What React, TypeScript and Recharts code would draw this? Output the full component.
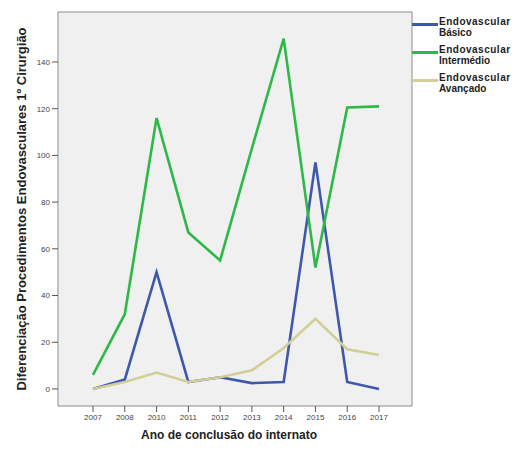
import React from "react";
import {
  LineChart,
  Line,
  XAxis,
  YAxis,
  CartesianGrid,
  Label
} from "recharts";

const years = ["2007", "2008", "2010", "2011", "2012", "2013", "2014", "2015", "2016", "2017"];
const basico = [0, 4, 50, 3, 5, 2.5, 3, 97, 3, 0];
const intermedio = [6, 32, 116, 67, 55, 103, 150, 52, 120.5, 121];
const avancado = [0, 3, 7, 3, 5, 8, 17.5, 30, 17, 14.5];
const yTicks = [0, 20, 40, 60, 80, 100, 120, 140];

const series = [
  { key: "basico", first: "Endovascular", second: "Básico", color: "#3e58ac" },
  { key: "intermedio", first: "Endovascular", second: "Intermédio", color: "#2eb848" },
  { key: "avancado", first: "Endovascular", second: "Avançado", color: "#d3ce97" }
];

const data = years.map((year, i) => ({
  year,
  basico: basico[i],
  intermedio: intermedio[i],
  avancado: avancado[i]
}));

const FONT = "'Liberation Sans', Arial, sans-serif";

const ChartLegend = () => (
  <div
    style={{
      position: "absolute",
      left: 412,
      top: 13,
      fontFamily: FONT,
      fontSize: 10,
      fontWeight: "bold",
      color: "#222"
    }}
  >
    {series.map((s) => (
      <div key={s.key} style={{ display: "flex", alignItems: "flex-start", height: 28 }}>
        <div style={{ width: 26, height: 3, background: s.color, marginTop: 10, marginRight: 1 }} />
        <div style={{ lineHeight: "11px", marginTop: 3 }}>
          <div style={{ letterSpacing: 0.5 }}>{s.first}</div>
          <div>{s.second}</div>
        </div>
      </div>
    ))}
  </div>
);

export default function App() {
  return (
    <div style={{ position: "absolute", left: 0, top: 0, width: 515, height: 450, background: "#fff" }}>
      <LineChart
        width={515}
        height={450}
        data={data}
        margin={{ top: 12, right: 103, left: 18, bottom: 14 }}
      >
        <CartesianGrid
          fill="#f0f0f0"
          stroke="#8c8c8c"
          horizontalCoordinatesGenerator={() => [12, 406]}
          verticalCoordinatesGenerator={() => [58, 412]}
        />
        <XAxis
          dataKey="year"
          height={30}
          padding={{ left: 35, right: 33 }}
          axisLine={false}
          tickLine={{ stroke: "#555" }}
          tickSize={6}
          tick={{ fontSize: 8, fill: "#444", fontFamily: FONT }}
          interval={0}
        >
          <Label
            value="Ano de conclusão do internato"
            position="insideBottom"
            offset={-3}
            dx={-6}
            style={{ fontSize: 12, fontWeight: "bold", fill: "#222", fontFamily: FONT }}
          />
        </XAxis>
        <YAxis
          width={40}
          domain={[-7.3, 161.4]}
          ticks={yTicks}
          axisLine={false}
          tickLine={{ stroke: "#555" }}
          tickSize={6}
          tick={{ fontSize: 8, fill: "#444", fontFamily: FONT }}
        >
          <Label
            value="Diferenciação Procedimentos Endovasculares 1º Cirurgião"
            angle={-90}
            position="insideLeft"
            offset={3}
            style={{
              fontSize: 13,
              fontWeight: "bold",
              fill: "#222",
              fontFamily: FONT,
              textAnchor: "middle"
            }}
          />
        </YAxis>
        {series.map((s) => (
          <Line
            key={s.key}
            dataKey={s.key}
            name={`${s.first} ${s.second}`}
            stroke={s.color}
            strokeWidth={2.6}
            dot={false}
            activeDot={false}
            type="linear"
            isAnimationActive={false}
          />
        ))}
      </LineChart>
      <ChartLegend />
    </div>
  );
}
